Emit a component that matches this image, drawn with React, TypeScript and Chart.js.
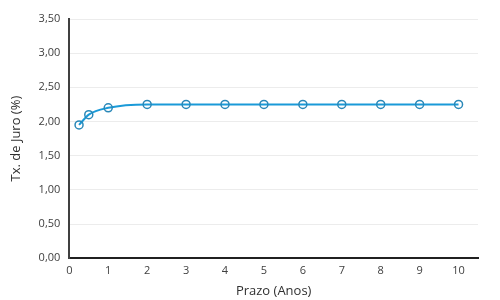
import React, { useEffect, useRef } from "react";
import { Chart, registerables } from "chart.js";

Chart.register(...registerables);

const prazos = [0.25, 0.5, 1, 2, 3, 4, 5, 6, 7, 8, 9, 10];
const taxas = [1.95, 2.1, 2.2, 2.25, 2.25, 2.25, 2.25, 2.25, 2.25, 2.25, 2.25, 2.25];
const xTitle = "Prazo (Anos)";
const yTitle = "Tx. de Juro (%)";

const BLUE = "#1a9ad8";
const FONT = "'Open Sans', 'Noto Sans', sans-serif";

export default function App() {
  const ref = useRef<HTMLCanvasElement | null>(null);
  useEffect(() => {
    document.body.style.margin = "0";
    const ctx = ref.current!;
    const chart = new Chart(ctx, {
      type: "line",
      data: {
        datasets: [
          {
            data: prazos.map((p, i) => ({ x: p, y: taxas[i] })),
            borderColor: BLUE,
            backgroundColor: "rgba(255,255,255,0)",
            borderWidth: 2,
            cubicInterpolationMode: "monotone",
            pointRadius: 4,
            pointBorderWidth: 1.5,
            pointBorderColor: "#2a88b8",
            pointBackgroundColor: "rgba(255,255,255,0)",
          },
        ],
      },
      options: {
        animation: false,
        responsive: false,
        plugins: { legend: { display: false }, tooltip: { enabled: false } },
        layout: { padding: { top: 19, right: 22, left: 8, bottom: 1 } },
        scales: {
          x: {
            type: "linear",
            min: 0,
            max: 10.5,
            afterBuildTicks: (axis: any) => {
              axis.ticks = [0, 1, 2, 3, 4, 5, 6, 7, 8, 9, 10].map((v) => ({ value: v }));
            },
            grid: { display: false, drawTicks: false },
            border: { display: true, color: "#202020", width: 2 },
            ticks: {
              color: "#404040",
              font: { family: FONT, size: 11 },
              padding: 6,
              maxRotation: 0,
            },
            title: {
              display: true,
              text: xTitle,
              color: "#303030",
              font: { family: FONT, size: 13 },
              padding: { top: 0, bottom: 0 },
            },
          },
          y: {
            min: 0,
            max: 3.5,
            ticks: {
              stepSize: 0.5,
              color: "#404040",
              font: { family: FONT, size: 11 },
              padding: 9,
              callback: (v: any) => Number(v).toFixed(2).replace(".", ","),
            },
            grid: { color: "#ececec", drawTicks: false, lineWidth: 1 },
            border: { display: true, color: "#404040", width: 2 },
            title: {
              display: true,
              text: yTitle,
              color: "#303030",
              font: { family: FONT, size: 13 },
              padding: { top: 0, bottom: 6 },
            },
          },
        },
      },
    });
    return () => chart.destroy();
  }, []);
  return (
    <div style={{ position: "absolute", left: 0, top: 0, width: 500, height: 300, background: "#fff" }}>
      <canvas ref={ref} width={500} height={300} />
    </div>
  );
}
